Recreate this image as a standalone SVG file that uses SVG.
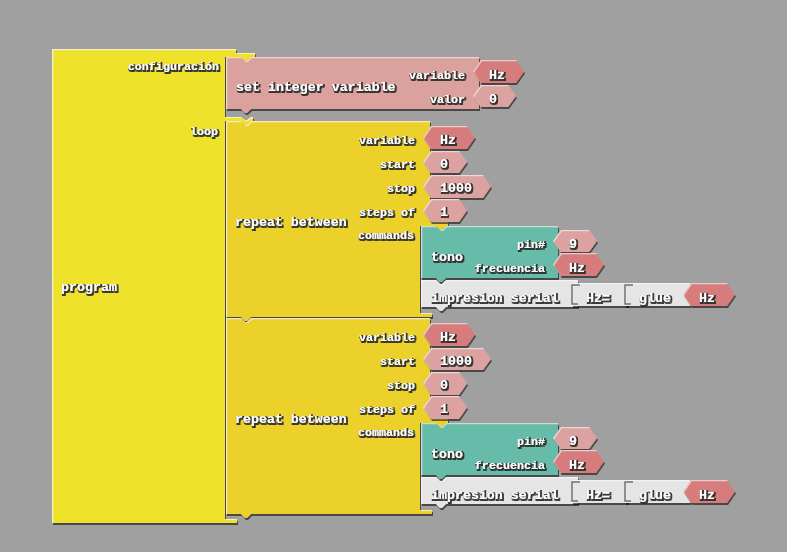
<svg xmlns="http://www.w3.org/2000/svg" width="787" height="552" viewBox="0 0 787 552">
<defs>
<filter id="bev" x="-5%" y="-5%" width="110%" height="115%">
<feOffset in="SourceAlpha" dx="1" dy="1.5" result="sh"/>
<feFlood flood-color="#000" flood-opacity="0.55"/>
<feComposite in2="sh" operator="in" result="shadow"/>
<feOffset in="SourceAlpha" dx="1.2" dy="1.2" result="off"/>
<feComposite in="SourceAlpha" in2="off" operator="out" result="edge"/>
<feFlood flood-color="#fff" flood-opacity="0.5"/>
<feComposite in2="edge" operator="in" result="hl"/>
<feMerge><feMergeNode in="shadow"/><feMergeNode in="SourceGraphic"/><feMergeNode in="hl"/></feMerge>
</filter>
<filter id="ts" x="-10%" y="-30%" width="120%" height="160%">
<feMorphology in="SourceAlpha" operator="dilate" radius="0.6" result="d"/>
<feOffset in="d" dx="0.8" dy="0.8" result="o"/>
<feGaussianBlur in="o" stdDeviation="0.4" result="b"/>
<feFlood flood-color="#2a2a2a" flood-opacity="0.9"/>
<feComposite in2="b" operator="in" result="s"/>
<feMerge><feMergeNode in="s"/><feMergeNode in="SourceGraphic"/></feMerge>
</filter>
</defs>
<style>
.b{filter:url(#bev)}
.prog{fill:#eee22c}
.rep{fill:#ebd12c}
.cfg{fill:#dba19d}
.var{fill:#d67b7b}
.num{fill:#dca29f}
.tono{fill:#66bba9}
.gray{fill:#e5e5e5}
.brk{fill:none;stroke:#707070;stroke-width:1.5}
.t{font-family:"Liberation Mono","DejaVu Sans Mono",monospace;font-weight:bold;fill:#fff;filter:url(#ts)}
.m{font-size:13.3px}
.l{font-size:11.7px}
.r{text-anchor:end}
</style>
<rect width="787" height="552" fill="#a0a0a0"/>
<g id="connectors"/>

<g id="program">
<path class="b prog" d="M52,49 H236 V53 H255 V57 H251 l-4,4 h-2 l-4,-4 H225 V117 H241 l4,3 h2 l4,-3 H253 V121 H251 l-4,4 h-2 l-4,-4 H225 V519 H237 V523 H52 Z"/>
<text class="t l r" x="219" y="70">configuración</text>
<text class="t l r" x="218" y="135">loop</text>
<text class="t m" x="61" y="291">program</text>
</g>

<g id="set-integer-variable">
<path class="b cfg" d="M226,57 H241 l4,4 h2 l4,-4 H479 V109 H251 l-4,4 h-2 l-4,-4 H226 Z"/>
<text class="t m" x="236" y="91">set integer variable</text>
<text class="t l r" x="465" y="79">variable</text>
<text class="t l r" x="465" y="103">valor</text>
</g>
<g id="cfg-var-hz">
<path class="b var" d="M473,71.5 L481,60 H516 L524,71.5 L516,83 H481 Z"/>
<text class="t m" x="489" y="79">Hz</text>
</g>
<g id="cfg-valor-0">
<path class="b num" d="M473,96 L481,85 H508 L516,96 L508,107 H481 Z"/>
<text class="t m" x="489" y="103">0</text>
</g>

<g id="repeat-1">
<path class="b rep" d="M226,121 H241 l4,4 h2 l4,-4 H430 V222 H448 V226 H446 l-4,4 h-2 l-4,-4 H420 V313 H432 V317 H251 l-4,4 h-2 l-4,-4 H226 Z"/>
<text class="t m" x="235" y="226">repeat between</text>
<text class="t l r" x="415" y="144">variable</text>
<text class="t l r" x="415" y="168">start</text>
<text class="t l r" x="415" y="192">stop</text>
<text class="t l r" x="415" y="216">steps of</text>
<text class="t l r" x="414" y="239">commands</text>
</g>
<g id="r1-var-hz">
<path class="b var" d="M423,137.5 L431,126 H467 L475,137.5 L467,149 H431 Z"/>
<text class="t m" x="440" y="144">Hz</text>
</g>
<g id="r1-start-0">
<path class="b num" d="M423,162 L431,151 H459 L467,162 L459,173 H431 Z"/>
<text class="t m" x="440" y="168">0</text>
</g>
<g id="r1-stop-1000">
<path class="b num" d="M423,186.5 L431,175 H483 L491,186.5 L483,198 H431 Z"/>
<text class="t m" x="440" y="192">1000</text>
</g>
<g id="r1-steps-1">
<path class="b num" d="M423,210.5 L431,199 H459 L467,210.5 L459,222 H431 Z"/>
<text class="t m" x="440" y="216">1</text>
</g>
<g id="r1-tono">
<path class="b tono" d="M421,226 H436 l4,4 h2 l4,-4 H558 V278 H446 l-4,4 h-2 l-4,-4 H421 Z"/>
<text class="t m" x="431" y="261">tono</text>
<text class="t l r" x="545" y="248">pin#</text>
<text class="t l r" x="545" y="272">frecuencia</text>
</g>
<g id="r1-pin-9">
<path class="b num" d="M553,241 L561,230 H589 L597,241 L589,252 H561 Z"/>
<text class="t m" x="569" y="248">9</text>
</g>
<g id="r1-freq-hz">
<path class="b var" d="M553,264.5 L561,253 H596 L604,264.5 L596,276 H561 Z"/>
<text class="t m" x="569" y="272">Hz</text>
</g>
<g id="r1-impresion">
<path class="b gray" d="M421,280 H436 l4,4 h2 l4,-4 H578 V307 H446 l-4,4 h-2 l-4,-4 H421 Z"/>
<text class="t m" x="431" y="302">impresion serial</text>
</g>
<g id="r1-text-hz">
<path class="b gray" d="M572,283 H628 V306 H572 Z"/>
<path class="brk" d="M580,285 H572 V304 H578"/>
<text class="t m" x="586" y="302">Hz=</text>
</g>
<g id="r1-glue">
<path class="b gray" d="M625,283 H690 V306 H625 Z"/>
<path class="brk" d="M633,285 H625 V304 H631"/>
<text class="t m" x="639" y="302">glue</text>
</g>
<g id="r1-glue-hz">
<path class="b var" d="M683,294.5 L691,283 H727 L735,294.5 L727,306 H691 Z"/>
<text class="t m" x="699" y="302">Hz</text>
</g>

<g id="repeat-2">
<path class="b rep" d="M226,318 H241 l4,4 h2 l4,-4 H430 V419 H448 V423 H446 l-4,4 h-2 l-4,-4 H420 V510 H432 V514 H251 l-4,4 h-2 l-4,-4 H226 Z"/>
<text class="t m" x="235" y="423">repeat between</text>
<text class="t l r" x="415" y="341">variable</text>
<text class="t l r" x="415" y="365">start</text>
<text class="t l r" x="415" y="389">stop</text>
<text class="t l r" x="415" y="413">steps of</text>
<text class="t l r" x="414" y="436">commands</text>
</g>
<g id="r2-var-hz">
<path class="b var" d="M423,334.5 L431,323 H467 L475,334.5 L467,346 H431 Z"/>
<text class="t m" x="440" y="341">Hz</text>
</g>
<g id="r2-start-1000">
<path class="b num" d="M423,359 L431,348 H483 L491,359 L483,370 H431 Z"/>
<text class="t m" x="440" y="365">1000</text>
</g>
<g id="r2-stop-0">
<path class="b num" d="M423,383.5 L431,372 H459 L467,383.5 L459,395 H431 Z"/>
<text class="t m" x="440" y="389">0</text>
</g>
<g id="r2-steps-1">
<path class="b num" d="M423,407.5 L431,396 H459 L467,407.5 L459,419 H431 Z"/>
<text class="t m" x="440" y="413">1</text>
</g>
<g id="r2-tono">
<path class="b tono" d="M421,423 H436 l4,4 h2 l4,-4 H558 V475 H446 l-4,4 h-2 l-4,-4 H421 Z"/>
<text class="t m" x="431" y="458">tono</text>
<text class="t l r" x="545" y="445">pin#</text>
<text class="t l r" x="545" y="469">frecuencia</text>
</g>
<g id="r2-pin-9">
<path class="b num" d="M553,438 L561,427 H589 L597,438 L589,449 H561 Z"/>
<text class="t m" x="569" y="445">9</text>
</g>
<g id="r2-freq-hz">
<path class="b var" d="M553,461.5 L561,450 H596 L604,461.5 L596,473 H561 Z"/>
<text class="t m" x="569" y="469">Hz</text>
</g>
<g id="r2-impresion">
<path class="b gray" d="M421,477 H436 l4,4 h2 l4,-4 H578 V504 H446 l-4,4 h-2 l-4,-4 H421 Z"/>
<text class="t m" x="431" y="499">impresion serial</text>
</g>
<g id="r2-text-hz">
<path class="b gray" d="M572,480 H628 V503 H572 Z"/>
<path class="brk" d="M580,482 H572 V501 H578"/>
<text class="t m" x="586" y="499">Hz=</text>
</g>
<g id="r2-glue">
<path class="b gray" d="M625,480 H690 V503 H625 Z"/>
<path class="brk" d="M633,482 H625 V501 H631"/>
<text class="t m" x="639" y="499">glue</text>
</g>
<g id="r2-glue-hz">
<path class="b var" d="M683,491.5 L691,480 H727 L735,491.5 L727,503 H691 Z"/>
<text class="t m" x="699" y="499">Hz</text>
</g>
</svg>
